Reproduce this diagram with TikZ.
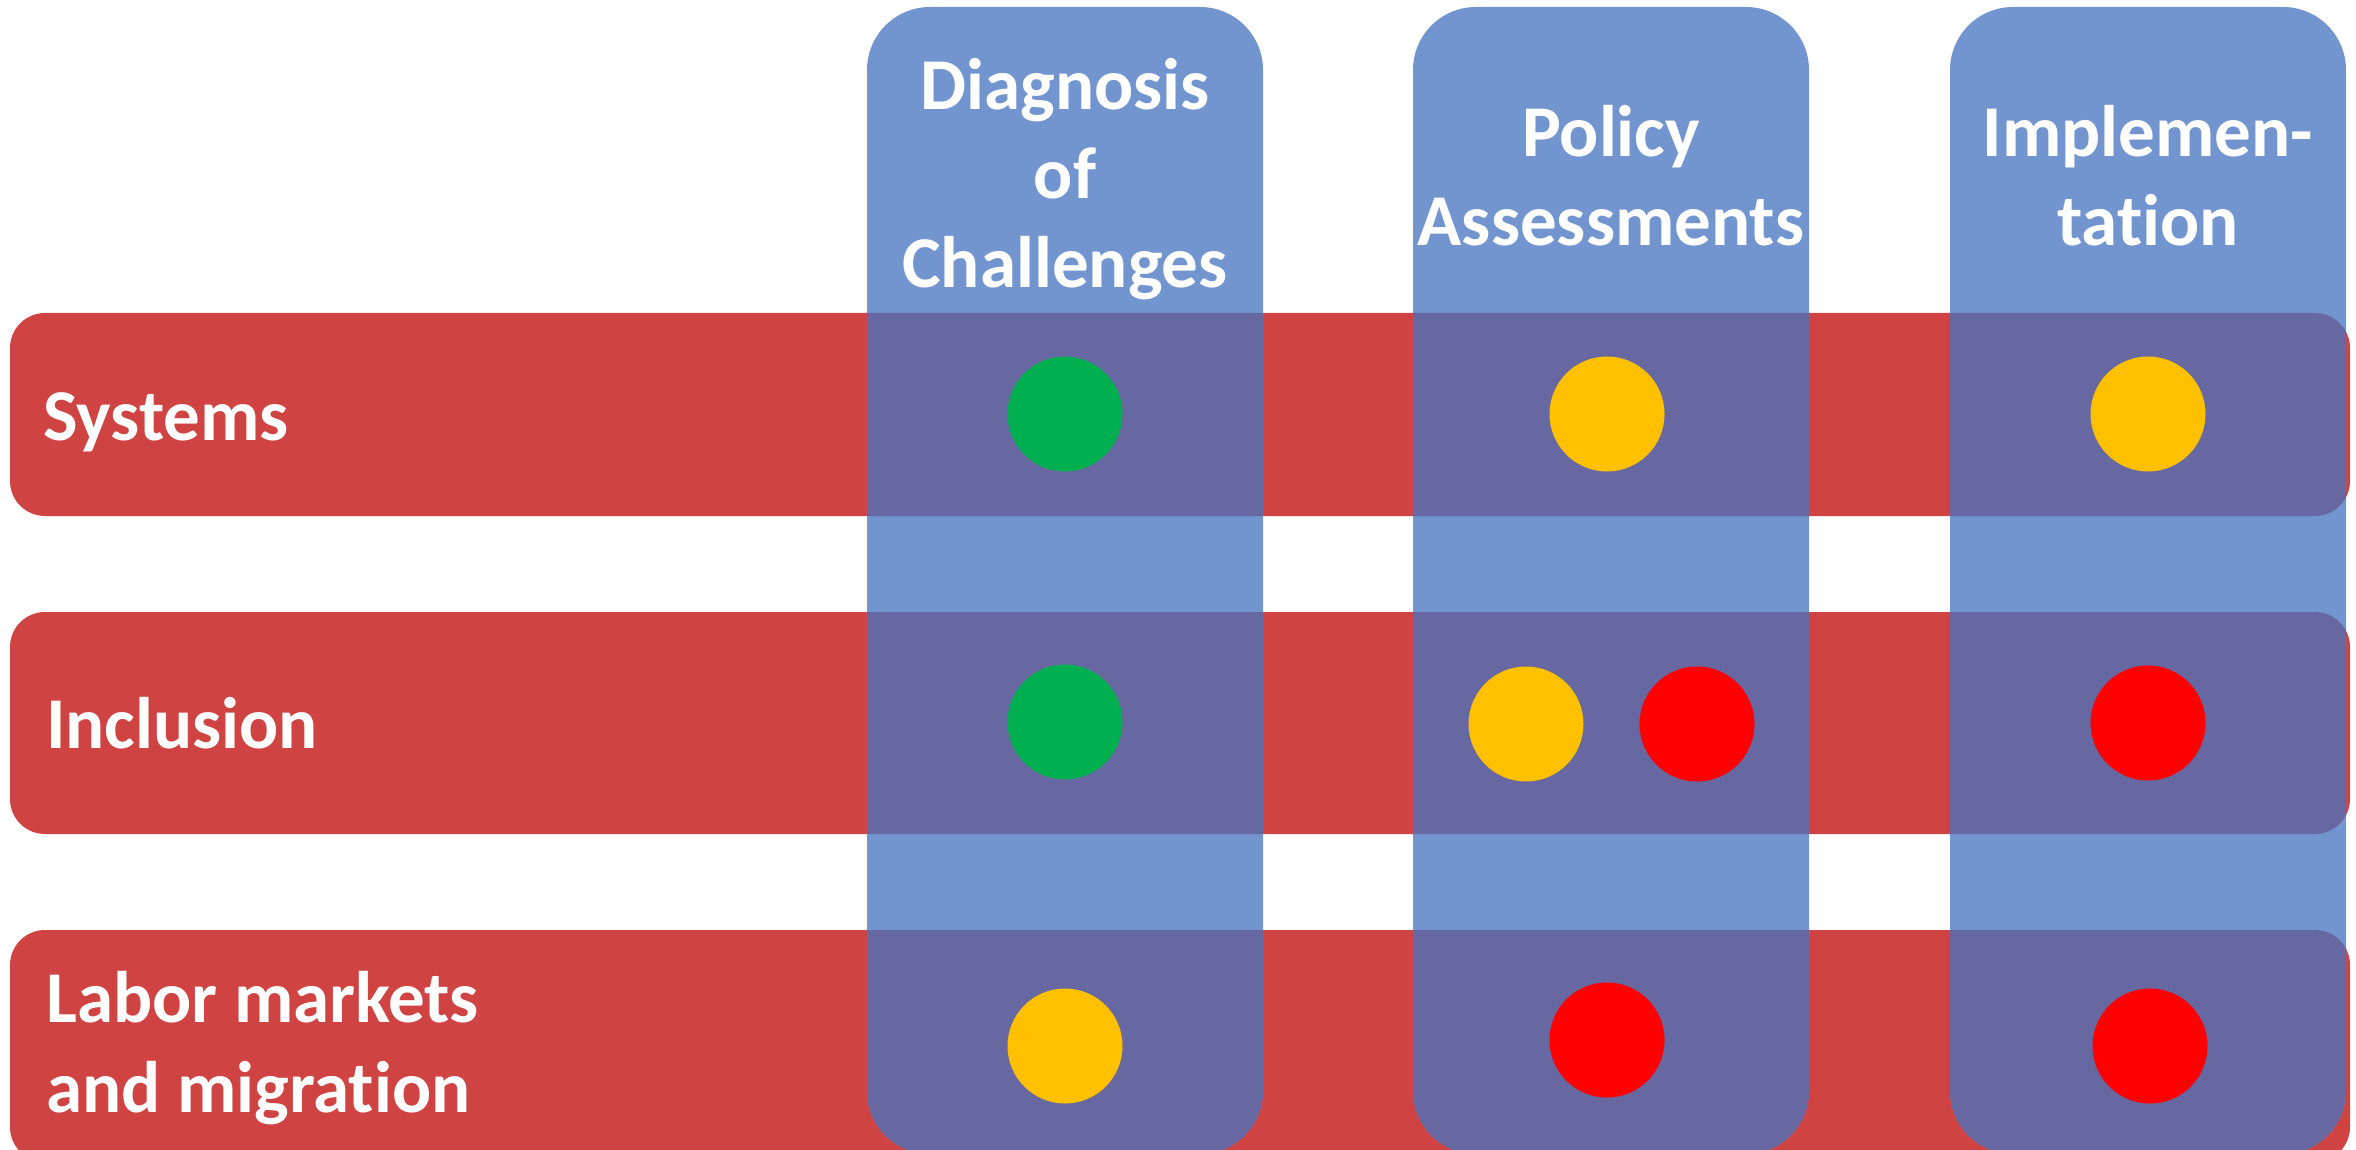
\documentclass[tikz,border=0pt]{standalone}
\usepackage{fontspec}
\setmainfont{Carlito}[Ligatures={NoCommon}]
\definecolor{rowred}{HTML}{CF4343}
\definecolor{colblue}{HTML}{7295D0}
\definecolor{overlap}{HTML}{6767A1}
\definecolor{dotgreen}{HTML}{00B050}
\definecolor{dotyellow}{HTML}{FFC000}
\definecolor{dotred}{HTML}{FF0000}
\begin{document}
\begin{tikzpicture}[x=1pt,y=-1pt,
  lbl/.style={text=white,inner sep=0pt,font=\fontsize{73}{88}\selectfont\bfseries},
  dot/.style={circle,minimum size=115pt,inner sep=0pt},
  rowshape/.style={rounded corners=35pt},
  colshape/.style={rounded corners=63pt}]
\useasboundingbox (0,0) rectangle (2356,1150);
\begin{scope}
\clip (0,0) rectangle (2356,1150);
% rows
\fill[rowred,rowshape] (10,313) rectangle (2350,516);
\fill[rowred,rowshape] (10,612) rectangle (2350,834);
\fill[rowred,rowshape] (10,930) rectangle (2350,1162);
% columns
\fill[colblue,colshape] (867,7) rectangle (1263,1154);
\fill[colblue,colshape] (1413,7) rectangle (1809,1154);
\fill[colblue,colshape] (1950,7) rectangle (2346,1154);
% overlaps
\foreach \xa/\xb in {867/1263,1413/1809,1950/2346}{
  \begin{scope}
  \clip[colshape] (\xa,7) rectangle (\xb,1154);
  \fill[overlap,rowshape] (10,313) rectangle (2350,516);
  \fill[overlap,rowshape] (10,612) rectangle (2350,834);
  \fill[overlap,rowshape] (10,930) rectangle (2350,1162);
  \end{scope}
}
\end{scope}
% column headers
\node[lbl,anchor=base] (h1a) at (1065,110) {Diagnosis};
\node[lbl,anchor=base] (h1b) at (1065,199) {of};
\node[lbl,anchor=base] (h1c) at (1065,288) {Challenges};
\node[lbl,anchor=base] (h2a) at (1611,157) {Policy};
\node[lbl,anchor=base] (h2b) at (1611,246) {Assessments};
\node[lbl,anchor=base] (h3a) at (2148,157) {Implemen-};
\node[lbl,anchor=base] (h3b) at (2148,246) {tat\kern0pt ion};
% row labels
\node[lbl,anchor=base west] (r1) at (43,440) {Systems};
\node[lbl,anchor=base west] (r2) at (46,748) {Inclusion};
\node[lbl,anchor=base west] (r3a) at (46,1022) {Labor markets};
\node[lbl,anchor=base west] (r3b) at (46,1112) {and migrat\kern0pt ion};
% dots
\node[dot,fill=dotgreen] (d11) at (1065,414) {};
\node[dot,fill=dotyellow] (d12) at (1607,414) {};
\node[dot,fill=dotyellow] (d13) at (2148,414) {};
\node[dot,fill=dotgreen] (d21) at (1065,722) {};
\node[dot,fill=dotyellow] (d22a) at (1526,724) {};
\node[dot,fill=dotred] (d22b) at (1697,724) {};
\node[dot,fill=dotred] (d23) at (2148,723) {};
\node[dot,fill=dotyellow] (d31) at (1065,1046) {};
\node[dot,fill=dotred] (d32) at (1607,1040) {};
\node[dot,fill=dotred] (d33) at (2150,1046) {};
\end{tikzpicture}
\end{document}
